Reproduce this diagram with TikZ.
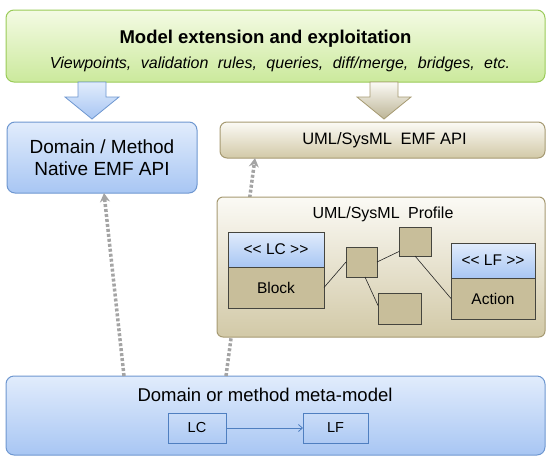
\documentclass[tikz,border=0pt]{standalone}
\usepackage{fontspec}
\setmainfont{Liberation Sans}
\usetikzlibrary{arrows.meta}
\definecolor{grTop}{HTML}{F4FBE4}
\definecolor{grBot}{HTML}{CBE99C}
\definecolor{grBd}{HTML}{9ACB58}
\definecolor{blTop}{HTML}{E1ECFC}
\definecolor{blBot}{HTML}{A8C6F3}
\definecolor{blBd}{HTML}{6E97D0}
\definecolor{tnTop}{HTML}{FBFAF5}
\definecolor{tnBot}{HTML}{D2C9A7}
\definecolor{tnBd}{HTML}{A69A72}
\definecolor{olv}{HTML}{C8BE9A}
\definecolor{dkBd}{HTML}{45453E}
\definecolor{dotc}{HTML}{A4A4A4}
\definecolor{lnk}{HTML}{4F7FC0}
\newcommand{\dlt}{<\kern0pt<}
\newcommand{\dgt}{>\kern0pt>}
\begin{document}
\begin{tikzpicture}[x=1pt,y=-1pt,
  every node/.style={inner sep=0pt,outer sep=0pt},
  greenbox/.style={draw=grBd,line width=1pt,rounded corners=8pt,top color=grTop,bottom color=grBot},
  bluebox/.style={draw=blBd,line width=1pt,rounded corners=8pt,top color=blTop,bottom color=blBot},
  tanbox/.style={draw=tnBd,line width=1pt,rounded corners=7pt,top color=tnTop,bottom color=tnBot},
  stereo/.style={draw=dkBd,line width=0.8pt,top color=blTop,bottom color=blBot,font=\fontsize{15.5}{18}\selectfont},
  olivebox/.style={draw=dkBd,line width=0.8pt,fill=olv,font=\fontsize{15.5}{18}\selectfont},
  mmbox/.style={draw=lnk,line width=0.8pt,top color=blTop!60!blBot,bottom color=blBot!90!blTop,font=\fontsize{14.5}{17}\selectfont},
  dotarrow/.style={draw=dotc,line width=3.5pt,dash pattern=on 3pt off 2pt,-{Stealth[length=9pt,width=10pt,inset=3pt]}},
  thinline/.style={draw=black!85,line width=0.6pt}]
\useasboundingbox (0,0) rectangle (547,456);
% top box
\node[greenbox,minimum width=539pt,minimum height=72pt] (top) at (275.5,46) {};
\node[font=\fontsize{18.5}{22}\selectfont\bfseries] (ttl) at (265.5,39) {Model extension and exploitation};
\node[font=\fontsize{16}{19}\selectfont\itshape] (sub) at (280,64) {Viewpoints,\hspace{5pt} validation\hspace{5pt} rules,\hspace{5pt} queries,\hspace{5pt} diff/merge,\hspace{5pt} bridges,\hspace{5pt} etc.};
% block arrows
\draw[draw=blBd,line width=0.8pt,top color=blTop,bottom color=blBot]
  ([xshift=-14pt]top.south -| 92,0) -- ++(28,0) -- ++(0,15) -- ++(13,0) -- ++(-27,22) -- ++(-27,-22) -- ++(13,0) -- cycle;
\draw[draw=tnBd,line width=0.8pt,top color=tnTop,bottom color=tnBot!90!black]
  ([xshift=-14pt]top.south -| 384,0) -- ++(28,0) -- ++(0,15) -- ++(13,0) -- ++(-27,22) -- ++(-27,-22) -- ++(13,0) -- cycle;
% domain / method
\node[bluebox,minimum width=190pt,minimum height=71pt] (dm) at (102,157.5) {};
\node[font=\fontsize{19}{22.5}\selectfont,align=center] (dmt) at (dm.center) {Domain / Method\\Native EMF API};
% EMF API
\node[tanbox,minimum width=325pt,minimum height=36pt] (emf) at (382.5,140) {};
\node[font=\fontsize{16.5}{20}\selectfont] (emft) at (384.5,140) {UML/SysML\hspace{4pt} EMF API};
% bottom box
\node[bluebox,minimum width=539pt,minimum height=79pt] (bot) at (275.5,415.5) {};
\node[font=\fontsize{18.5}{22}\selectfont] (bott) at (265,395) {Domain or method meta-model};
\node[mmbox,minimum width=58pt,minimum height=30pt] (lc) at (197,428) {LC};
\node[mmbox,minimum width=65pt,minimum height=30pt] (lf) at (335.5,428) {LF};
\draw[draw=lnk,line width=0.8pt,-{Straight Barb[length=4pt,width=7pt]}] (lc.east) -- (lf.west);
% dotted arrows
\draw[dotarrow] ([xshift=118pt]bot.north west) -- ([xshift=2pt]dm.south);
\draw[dotarrow] ([xshift=220pt]bot.north west) -- ([xshift=35pt]emf.south west);
% profile
\node[tanbox,rounded corners=6pt,minimum width=328pt,minimum height=140pt] (prof) at (381,267) {};
\node[font=\fontsize{16}{19}\selectfont] (proft) at (383,214) {UML/SysML\hspace{4pt} Profile};
\node[stereo,minimum width=96pt,minimum height=35pt] (lcs) at (276,249.5) {\dlt{} LC \dgt};
\node[olivebox,minimum width=96pt,minimum height=41pt] (blk) at (276,287.5) {Block};
\node[stereo,minimum width=84pt,minimum height=35pt] (lfs) at (493,260.5) {\dlt{} LF \dgt};
\node[olivebox,minimum width=84pt,minimum height=41pt] (act) at (493,298.5) {Action};
\node[olivebox,minimum width=31pt,minimum height=30pt] (b1) at (361.5,262) {};
\node[olivebox,minimum width=32pt,minimum height=29pt] (b2) at (415,241.5) {};
\node[olivebox,minimum width=43pt,minimum height=31pt] (b3) at (399.5,308.5) {};
\draw[thinline] (blk.east) -- (b1.west);
\draw[thinline] (b1.east) -- ([yshift=-10pt]b2.west);
\draw[thinline] ([xshift=3.5pt]b1.south) -- ([yshift=3pt]b3.west);
\draw[thinline] (b2.south) -- (act.west);
\end{tikzpicture}
\end{document}
